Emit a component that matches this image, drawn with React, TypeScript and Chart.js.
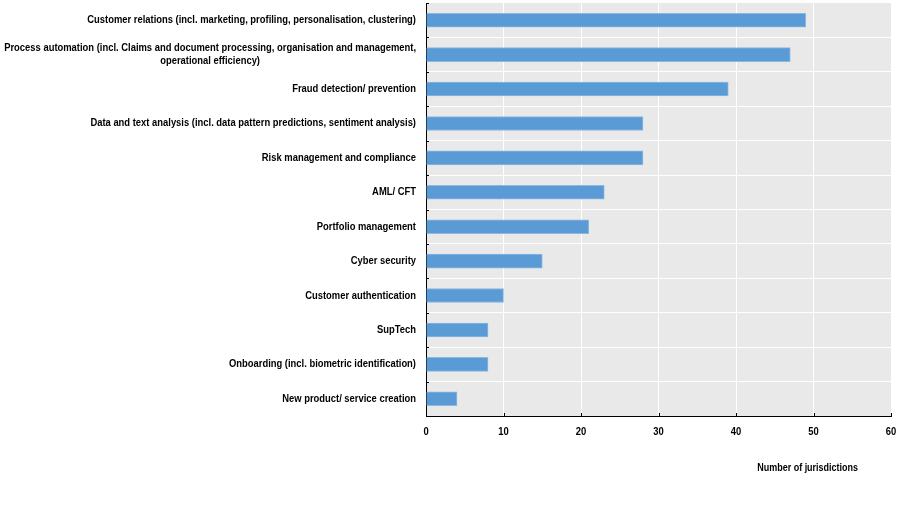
import React, { useEffect, useRef } from "react";
import { Chart, registerables } from "chart.js";

Chart.register(...registerables);

const categories: string[][] = [
  ["Customer relations (incl. marketing, profiling, personalisation, clustering)"],
  ["Process automation (incl. Claims and document processing, organisation and management,", "operational efficiency)"],
  ["Fraud detection/ prevention"],
  ["Data and text analysis (incl. data pattern predictions, sentiment analysis)"],
  ["Risk management and compliance"],
  ["AML/ CFT"],
  ["Portfolio management"],
  ["Cyber security"],
  ["Customer authentication"],
  ["SupTech"],
  ["Onboarding (incl. biometric identification)"],
  ["New product/ service creation"],
];
const values: number[] = [49, 47, 39, 28, 28, 23, 21, 15, 10, 8, 8, 4];
const xTicks: number[] = [0, 10, 20, 30, 40, 50, 60];
const axisTitle = "Number of jurisdictions";

const FONT = "'Liberation Sans', Arial, sans-serif";
const NARROW = 0.855;

function narrowText(ctx: CanvasRenderingContext2D, text: string, x: number, y: number, align: CanvasTextAlign) {
  ctx.save();
  ctx.translate(x, y);
  ctx.scale(NARROW, 1);
  ctx.textAlign = align;
  ctx.fillText(text, 0, 0);
  ctx.restore();
}

export default function App() {
  const ref = useRef<HTMLCanvasElement | null>(null);
  useEffect(() => {
    if (!ref.current) return;
    const bgPlugin = {
      id: "bg",
      beforeDraw(chart: any) {
        const { ctx, chartArea } = chart;
        ctx.save();
        ctx.fillStyle = "#e9e9e9";
        ctx.fillRect(chartArea.left, chartArea.top, chartArea.right - chartArea.left, chartArea.bottom - chartArea.top);
        ctx.restore();
      },
      afterDraw(chart: any) {
        const { ctx, chartArea } = chart;
        const xs = chart.scales.x;
        const ys = chart.scales.y;
        ctx.save();
        // inner tick marks
        ctx.strokeStyle = "#000";
        ctx.lineWidth = 1;
        ctx.beginPath();
        xTicks.forEach((v) => {
          const px = Math.round(xs.getPixelForValue(v)) + 0.5;
          ctx.moveTo(px, chartArea.bottom);
          ctx.lineTo(px, chartArea.bottom - 3);
        });
        for (let i = 0; i <= categories.length; i++) {
          const py = Math.round(ys.getPixelForValue(i - 0.5)) + 0.5;
          ctx.moveTo(chartArea.left, py);
          ctx.lineTo(chartArea.left + 3, py);
        }
        ctx.stroke();
        ctx.fillStyle = "#000";
        ctx.textBaseline = "middle";
        // category labels
        ctx.font = `bold 11px ${FONT}`;
        const right = chartArea.left - 10;
        const lh = 13;
        categories.forEach((lines, i) => {
          const cy = ys.getPixelForValue(i);
          const maxW = Math.max(...lines.map((l) => ctx.measureText(l).width)) * NARROW;
          const cx = right - maxW / 2;
          const y0 = cy - ((lines.length - 1) * lh) / 2;
          lines.forEach((l, j) => narrowText(ctx, l, cx, y0 + j * lh, "center"));
        });
        // x tick labels
        ctx.font = `bold 11px ${FONT}`;
        xTicks.forEach((v) => {
          narrowText(ctx, String(v), xs.getPixelForValue(v), chartArea.bottom + 16, "center");
        });
        // axis title
        ctx.font = `bold 10.5px ${FONT}`;
        narrowText(ctx, axisTitle, chartArea.right - 33, chartArea.bottom + 52, "right");
        ctx.restore();
      },
    };
    const chart = new Chart(ref.current, {
      type: "bar",
      data: {
        labels: categories.map((c) => c.join(" ")),
        datasets: [
          {
            data: values,
            backgroundColor: "#5b9bd5",
            borderColor: "#8ab8e3",
            borderWidth: 1,
            barThickness: 14,
          },
        ],
      },
      options: {
        indexAxis: "y",
        animation: false,
        responsive: false,
        maintainAspectRatio: false,
        layout: { padding: { top: 3, right: 13, left: 0, bottom: 0 } },
        plugins: { legend: { display: false }, tooltip: { enabled: false } },
        scales: {
          x: {
            min: 0,
            max: 60,
            afterBuildTicks: (s: any) => {
              s.ticks = xTicks.map((v) => ({ value: v }));
            },
            afterFit: (s: any) => {
              s.height = 102;
            },
            grid: { color: "#ffffff", lineWidth: 1, drawTicks: false },
            border: { color: "#000000", width: 1 },
            ticks: { display: false },
          },
          y: {
            afterFit: (s: any) => {
              s.width = 426;
            },
            grid: { color: "#ffffff", lineWidth: 1, drawTicks: false, offset: true },
            border: { color: "#000000", width: 1 },
            ticks: { display: false },
          },
        },
      },
      plugins: [bgPlugin],
    } as any);
    return () => chart.destroy();
  }, []);
  return (
    <div style={{ position: "fixed", left: 0, top: 0, width: 904, height: 518, background: "#fff" }}>
      <canvas ref={ref} width={904} height={518} style={{ width: 904, height: 518 }} />
    </div>
  );
}
